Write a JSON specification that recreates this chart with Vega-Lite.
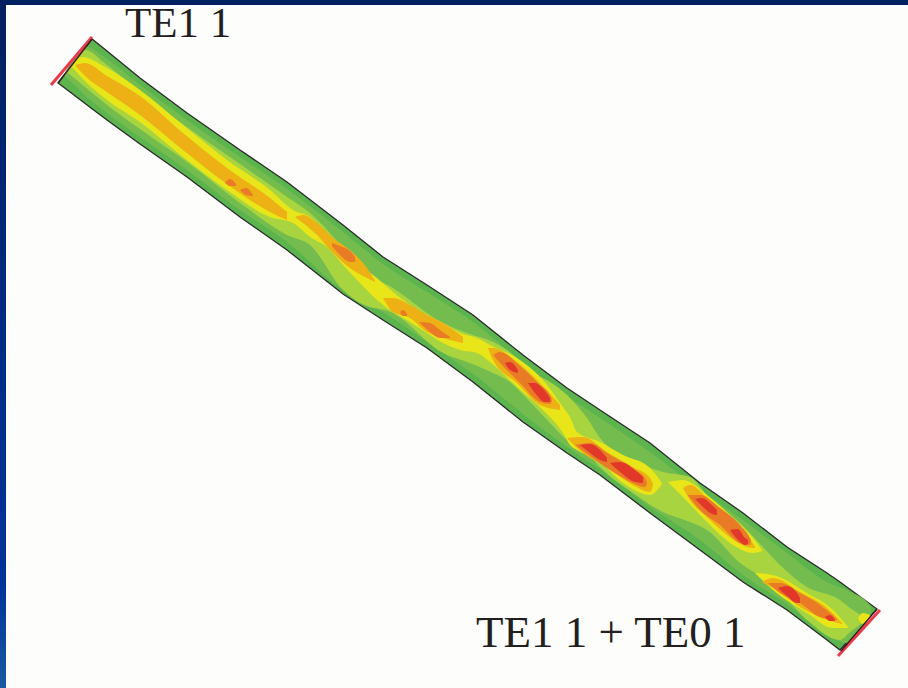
{"$schema":"https://vega.github.io/schema/vega-lite/v6.json","autosize":{"type":"fit","contains":"padding"},"width":908,"height":688,"padding":0,"background":"#fdfdfb","config":{"view":{"stroke":null}},
"datasets":{
"frame":[{"x":0,"x2":908,"y":0,"y2":5,"part":"top"},{"x":0,"x2":6,"y":0,"y2":688,"part":"left"}],
"labels":[{"label":"TE1 1","x":125,"y":37,"size":"a"},{"label":"TE1 1 + TE0 1","x":476,"y":647,"size":"b"}],
"ends":[{"end":"leftRed","x":51,"y":85},{"end":"leftRed","x":92,"y":37},{"end":"rightRed","x":838,"y":656},{"end":"rightRed","x":880,"y":610},{"end":"leftDark","x":58,"y":83},{"end":"leftDark","x":92,"y":39},{"end":"rightDark","x":841,"y":651},{"end":"rightDark","x":877,"y":609}],
"field":[
{"band":"guide","blob":"G","x":58,"top":83,"bottom":83},{"band":"guide","blob":"G","x":70,"top":67.5,"bottom":92},{"band":"guide","blob":"G","x":92,"top":39,"bottom":108.7},{"band":"guide","blob":"G","x":107,"top":51,"bottom":120},{"band":"guide","blob":"G","x":140,"top":78,"bottom":144},{"band":"guide","blob":"G","x":187,"top":113,"bottom":177},{"band":"guide","blob":"G","x":240,"top":150,"bottom":217},{"band":"guide","blob":"G","x":287,"top":182,"bottom":250},{"band":"guide","blob":"G","x":343,"top":225,"bottom":294},{"band":"guide","blob":"G","x":383,"top":257,"bottom":320},{"band":"guide","blob":"G","x":427,"top":285,"bottom":348},{"band":"guide","blob":"G","x":473,"top":315,"bottom":382},{"band":"guide","blob":"G","x":523,"top":355,"bottom":422},{"band":"guide","blob":"G","x":567,"top":388,"bottom":453},{"band":"guide","blob":"G","x":600,"top":410,"bottom":475},{"band":"guide","blob":"G","x":650,"top":443,"bottom":513},{"band":"guide","blob":"G","x":700,"top":483,"bottom":550},{"band":"guide","blob":"G","x":743,"top":513,"bottom":582},{"band":"guide","blob":"G","x":787,"top":547,"bottom":610},{"band":"guide","blob":"G","x":827,"top":573,"bottom":640},{"band":"guide","blob":"G","x":840,"top":582,"bottom":650},{"band":"guide","blob":"G","x":877,"top":609,"bottom":609},
{"band":"L1","blob":"M","x":64,"top":75,"bottom":75},{"band":"L1","blob":"M","x":86,"top":47,"bottom":96},{"band":"L1","blob":"M","x":107,"top":59,"bottom":113},{"band":"L1","blob":"M","x":140,"top":85,"bottom":137},{"band":"L1","blob":"M","x":187,"top":120,"bottom":170},{"band":"L1","blob":"M","x":240,"top":157,"bottom":210},{"band":"L1","blob":"M","x":287,"top":189,"bottom":242},{"band":"L1","blob":"M","x":343,"top":232,"bottom":290},{"band":"L1","blob":"M","x":383,"top":264,"bottom":312},{"band":"L1","blob":"M","x":427,"top":292,"bottom":342},{"band":"L1","blob":"M","x":473,"top":322,"bottom":374},{"band":"L1","blob":"M","x":523,"top":363,"bottom":414},{"band":"L1","blob":"M","x":567,"top":396,"bottom":447},{"band":"L1","blob":"M","x":600,"top":418,"bottom":469},{"band":"L1","blob":"M","x":650,"top":452,"bottom":507},{"band":"L1","blob":"M","x":700,"top":490,"bottom":540},{"band":"L1","blob":"M","x":743,"top":520,"bottom":575},{"band":"L1","blob":"M","x":787,"top":553,"bottom":604},{"band":"L1","blob":"M","x":827,"top":582,"bottom":634},{"band":"L1","blob":"M","x":846,"top":590,"bottom":643},{"band":"L1","blob":"M","x":870,"top":605,"bottom":616},{"band":"L1","blob":"M","x":871,"top":610,"bottom":611},
{"band":"L2","blob":"A","x":67,"top":72,"bottom":72},{"band":"L2","blob":"A","x":85,"top":50,"bottom":87},{"band":"L2","blob":"A","x":107,"top":65,"bottom":105},{"band":"L2","blob":"A","x":140,"top":92,"bottom":129},{"band":"L2","blob":"A","x":187,"top":127,"bottom":162},{"band":"L2","blob":"A","x":240,"top":164,"bottom":203},{"band":"L2","blob":"A","x":287,"top":197,"bottom":235},{"band":"L2","blob":"A","x":310,"top":213,"bottom":245},{"band":"L2","blob":"A","x":343,"top":248,"bottom":290},{"band":"L2","blob":"A","x":360,"top":268,"bottom":303},{"band":"L2","blob":"A","x":393,"top":288,"bottom":313},{"band":"L2","blob":"A","x":443,"top":323,"bottom":353},{"band":"L2","blob":"A","x":467,"top":333,"bottom":362},{"band":"L2","blob":"A","x":493,"top":342,"bottom":373},{"band":"L2","blob":"A","x":507,"top":350,"bottom":380},{"band":"L2","blob":"A","x":533,"top":373,"bottom":405},{"band":"L2","blob":"A","x":550,"top":382,"bottom":423},{"band":"L2","blob":"A","x":567,"top":395,"bottom":440},{"band":"L2","blob":"A","x":587,"top":418,"bottom":452},{"band":"L2","blob":"A","x":600,"top":438,"bottom":467},{"band":"L2","blob":"A","x":633,"top":460,"bottom":493},{"band":"L2","blob":"A","x":663,"top":472,"bottom":512},{"band":"L2","blob":"A","x":690,"top":477,"bottom":522},{"band":"L2","blob":"A","x":707,"top":495,"bottom":530},{"band":"L2","blob":"A","x":740,"top":523,"bottom":563},{"band":"L2","blob":"A","x":763,"top":547,"bottom":578},{"band":"L2","blob":"A","x":780,"top":565,"bottom":592},{"band":"L2","blob":"A","x":807,"top":587,"bottom":620},{"band":"L2","blob":"A","x":840,"top":600,"bottom":640},{"band":"L2","blob":"A","x":850,"top":608,"bottom":632},{"band":"L2","blob":"A","x":868,"top":619,"bottom":619},
{"band":"L3","blob":"Y1","x":72,"top":67,"bottom":67},{"band":"L3","blob":"Y1","x":82,"top":57,"bottom":78},{"band":"L3","blob":"Y1","x":107,"top":68,"bottom":100},{"band":"L3","blob":"Y1","x":140,"top":90,"bottom":122},{"band":"L3","blob":"Y1","x":183,"top":125,"bottom":157},{"band":"L3","blob":"Y1","x":227,"top":160,"bottom":190},{"band":"L3","blob":"Y1","x":270,"top":190,"bottom":217},{"band":"L3","blob":"Y1","x":293,"top":210,"bottom":223},{"band":"L3","blob":"Y1","x":310,"top":217,"bottom":237},{"band":"L3","blob":"Y1","x":327,"top":233,"bottom":247},{"band":"L3","blob":"Y1","x":343,"top":247,"bottom":265},{"band":"L3","blob":"Y1","x":360,"top":265,"bottom":283},{"band":"L3","blob":"Y1","x":377,"top":278,"bottom":300},{"band":"L3","blob":"Y1","x":393,"top":292,"bottom":312},{"band":"L3","blob":"Y1","x":410,"top":305,"bottom":322},{"band":"L3","blob":"Y1","x":427,"top":315,"bottom":333},{"band":"L3","blob":"Y1","x":443,"top":323,"bottom":343},{"band":"L3","blob":"Y1","x":460,"top":333,"bottom":350},{"band":"L3","blob":"Y1","x":477,"top":338,"bottom":353},{"band":"L3","blob":"Y1","x":490,"top":345,"bottom":362},{"band":"L3","blob":"Y1","x":517,"top":358,"bottom":387},{"band":"L3","blob":"Y1","x":543,"top":380,"bottom":410},{"band":"L3","blob":"Y1","x":563,"top":407,"bottom":433},{"band":"L3","blob":"Y1","x":570,"top":417,"bottom":445},{"band":"L3","blob":"Y1","x":577,"top":432,"bottom":450},{"band":"L3","blob":"Y1","x":600,"top":442,"bottom":462},{"band":"L3","blob":"Y1","x":623,"top":455,"bottom":483},{"band":"L3","blob":"Y1","x":650,"top":468,"bottom":495},{"band":"L3","blob":"Y1","x":662,"top":483,"bottom":484},
{"band":"L3","blob":"Y2","x":668,"top":482,"bottom":482},{"band":"L3","blob":"Y2","x":683,"top":480,"bottom":497},{"band":"L3","blob":"Y2","x":707,"top":495,"bottom":522},{"band":"L3","blob":"Y2","x":733,"top":518,"bottom":545},{"band":"L3","blob":"Y2","x":753,"top":538,"bottom":553},{"band":"L3","blob":"Y2","x":762,"top":550,"bottom":551},
{"band":"L3","blob":"Y3","x":755,"top":573,"bottom":573},{"band":"L3","blob":"Y3","x":773,"top":575,"bottom":590},{"band":"L3","blob":"Y3","x":807,"top":593,"bottom":613},{"band":"L3","blob":"Y3","x":833,"top":610,"bottom":628},{"band":"L3","blob":"Y3","x":848,"top":627,"bottom":628},
{"band":"L3","blob":"Y4","x":858,"top":618,"bottom":618},{"band":"L3","blob":"Y4","x":863,"top":613,"bottom":624},{"band":"L3","blob":"Y4","x":870,"top":615,"bottom":618},
{"band":"L4","blob":"O1","x":75,"top":65,"bottom":65},{"band":"L4","blob":"O1","x":85,"top":63,"bottom":76},{"band":"L4","blob":"O1","x":107,"top":76,"bottom":92},{"band":"L4","blob":"O1","x":140,"top":96,"bottom":115},{"band":"L4","blob":"O1","x":183,"top":133,"bottom":150},{"band":"L4","blob":"O1","x":227,"top":168,"bottom":184},{"band":"L4","blob":"O1","x":270,"top":198,"bottom":212},{"band":"L4","blob":"O1","x":287,"top":212,"bottom":220},
{"band":"L4","blob":"O2","x":295,"top":217,"bottom":217},{"band":"L4","blob":"O2","x":303,"top":215,"bottom":223},{"band":"L4","blob":"O2","x":317,"top":223,"bottom":235},{"band":"L4","blob":"O2","x":333,"top":238,"bottom":253},{"band":"L4","blob":"O2","x":350,"top":250,"bottom":268},{"band":"L4","blob":"O2","x":367,"top":268,"bottom":278},{"band":"L4","blob":"O2","x":375,"top":281,"bottom":282},
{"band":"L4","blob":"O3","x":383,"top":298,"bottom":298},{"band":"L4","blob":"O3","x":393,"top":298,"bottom":312},{"band":"L4","blob":"O3","x":410,"top":305,"bottom":318},{"band":"L4","blob":"O3","x":427,"top":315,"bottom":332},{"band":"L4","blob":"O3","x":443,"top":323,"bottom":338},{"band":"L4","blob":"O3","x":463,"top":337,"bottom":343},
{"band":"L4","blob":"O4","x":488,"top":348,"bottom":348},{"band":"L4","blob":"O4","x":493,"top":348,"bottom":360},{"band":"L4","blob":"O4","x":517,"top":362,"bottom":383},{"band":"L4","blob":"O4","x":540,"top":383,"bottom":405},{"band":"L4","blob":"O4","x":560,"top":405,"bottom":410},
{"band":"L4","blob":"O5","x":567,"top":438,"bottom":438},{"band":"L4","blob":"O5","x":583,"top":437,"bottom":453},{"band":"L4","blob":"O5","x":607,"top":452,"bottom":467},{"band":"L4","blob":"O5","x":633,"top":467,"bottom":485},{"band":"L4","blob":"O5","x":650,"top":478,"bottom":492},{"band":"L4","blob":"O5","x":653,"top":484,"bottom":485},
{"band":"L4","blob":"O6","x":683,"top":488,"bottom":488},{"band":"L4","blob":"O6","x":690,"top":485,"bottom":500},{"band":"L4","blob":"O6","x":707,"top":498,"bottom":517},{"band":"L4","blob":"O6","x":727,"top":518,"bottom":535},{"band":"L4","blob":"O6","x":747,"top":535,"bottom":547},{"band":"L4","blob":"O6","x":755,"top":547,"bottom":548},
{"band":"L4","blob":"O7","x":762,"top":582,"bottom":582},{"band":"L4","blob":"O7","x":773,"top":578,"bottom":588},{"band":"L4","blob":"O7","x":800,"top":592,"bottom":607},{"band":"L4","blob":"O7","x":827,"top":608,"bottom":620},{"band":"L4","blob":"O7","x":842,"top":623,"bottom":624},
{"band":"L5","blob":"D1","x":225,"top":183,"bottom":183},{"band":"L5","blob":"D1","x":230,"top":179,"bottom":186},{"band":"L5","blob":"D1","x":236,"top":184,"bottom":186},
{"band":"L5","blob":"D1b","x":240,"top":190,"bottom":190},{"band":"L5","blob":"D1b","x":246,"top":188,"bottom":195},{"band":"L5","blob":"D1b","x":253,"top":195,"bottom":196},
{"band":"L5","blob":"D2","x":332,"top":243,"bottom":246},{"band":"L5","blob":"D2","x":340,"top":246,"bottom":255},{"band":"L5","blob":"D2","x":350,"top":251,"bottom":262},{"band":"L5","blob":"D2","x":355,"top":257,"bottom":262},
{"band":"L5","blob":"D3","x":400,"top":312,"bottom":312},{"band":"L5","blob":"D3","x":403,"top":310,"bottom":316},{"band":"L5","blob":"D3","x":407,"top":314,"bottom":316},
{"band":"L5","blob":"D4","x":419,"top":322,"bottom":322},{"band":"L5","blob":"D4","x":430,"top":323,"bottom":332},{"band":"L5","blob":"D4","x":440,"top":330,"bottom":338},{"band":"L5","blob":"D4","x":450,"top":337,"bottom":338},
{"band":"L5","blob":"D5","x":493,"top":355,"bottom":355},{"band":"L5","blob":"D5","x":500,"top":352,"bottom":363},{"band":"L5","blob":"D5","x":520,"top":366,"bottom":383},{"band":"L5","blob":"D5","x":540,"top":385,"bottom":402},{"band":"L5","blob":"D5","x":550,"top":395,"bottom":404},{"band":"L5","blob":"D5","x":552,"top":400,"bottom":401},
{"band":"L5","blob":"D6","x":575,"top":445,"bottom":445},{"band":"L5","blob":"D6","x":590,"top":443,"bottom":456},{"band":"L5","blob":"D6","x":610,"top":455,"bottom":470},{"band":"L5","blob":"D6","x":635,"top":470,"bottom":484},{"band":"L5","blob":"D6","x":645,"top":478,"bottom":487},{"band":"L5","blob":"D6","x":647,"top":483,"bottom":484},
{"band":"L5","blob":"D7","x":688,"top":495,"bottom":495},{"band":"L5","blob":"D7","x":700,"top":495,"bottom":510},{"band":"L5","blob":"D7","x":720,"top":508,"bottom":525},{"band":"L5","blob":"D7","x":740,"top":525,"bottom":543},{"band":"L5","blob":"D7","x":750,"top":538,"bottom":545},{"band":"L5","blob":"D7","x":751,"top":540,"bottom":541},
{"band":"L5","blob":"D8","x":768,"top":583,"bottom":583},{"band":"L5","blob":"D8","x":780,"top":583,"bottom":593},{"band":"L5","blob":"D8","x":800,"top":593,"bottom":603},{"band":"L5","blob":"D8","x":820,"top":605,"bottom":617},{"band":"L5","blob":"D8","x":837,"top":619,"bottom":620},
{"band":"L6","blob":"R1","x":505,"top":363,"bottom":363},{"band":"L6","blob":"R1","x":510,"top":362,"bottom":370},{"band":"L6","blob":"R1","x":518,"top":370,"bottom":373},
{"band":"L6","blob":"R2","x":528,"top":383,"bottom":383},{"band":"L6","blob":"R2","x":535,"top":383,"bottom":393},{"band":"L6","blob":"R2","x":545,"top":391,"bottom":402},{"band":"L6","blob":"R2","x":550,"top":398,"bottom":402},
{"band":"L6","blob":"R3","x":580,"top":445,"bottom":445},{"band":"L6","blob":"R3","x":590,"top":444,"bottom":453},{"band":"L6","blob":"R3","x":600,"top":450,"bottom":460},{"band":"L6","blob":"R3","x":607,"top":458,"bottom":462},
{"band":"L6","blob":"R4","x":610,"top":463,"bottom":463},{"band":"L6","blob":"R4","x":620,"top":462,"bottom":472},{"band":"L6","blob":"R4","x":635,"top":470,"bottom":482},{"band":"L6","blob":"R4","x":643,"top":477,"bottom":483},
{"band":"L6","blob":"R5","x":695,"top":499,"bottom":499},{"band":"L6","blob":"R5","x":702,"top":498,"bottom":506},{"band":"L6","blob":"R5","x":712,"top":505,"bottom":514},{"band":"L6","blob":"R5","x":717,"top":510,"bottom":515},
{"band":"L6","blob":"R6","x":730,"top":530,"bottom":530},{"band":"L6","blob":"R6","x":738,"top":529,"bottom":540},{"band":"L6","blob":"R6","x":745,"top":538,"bottom":545},{"band":"L6","blob":"R6","x":748,"top":540,"bottom":544},
{"band":"L6","blob":"R7","x":778,"top":588,"bottom":588},{"band":"L6","blob":"R7","x":787,"top":586,"bottom":596},{"band":"L6","blob":"R7","x":797,"top":593,"bottom":603},{"band":"L6","blob":"R7","x":800,"top":598,"bottom":603},
{"band":"L6","blob":"R8","x":825,"top":617,"bottom":617},{"band":"L6","blob":"R8","x":830,"top":615,"bottom":621},{"band":"L6","blob":"R8","x":835,"top":620,"bottom":621}
]},
"layer":[
{"data":{"name":"frame"},"transform":[{"filter":"datum.part==='top'"}],"mark":{"type":"rect","color":"#002060"},"encoding":{"x":{"field":"x","type":"quantitative","scale":{"domain":[0,908],"nice":false,"zero":false},"axis":null},"x2":{"field":"x2"},"y":{"field":"y","type":"quantitative","scale":{"domain":[688,0],"nice":false,"zero":false},"axis":null},"y2":{"field":"y2"}}},
{"data":{"name":"frame"},"transform":[{"filter":"datum.part==='left'"}],"mark":{"type":"rect","color":{"gradient":"linear","x1":0,"y1":0,"x2":0,"y2":1,"stops":[{"offset":0,"color":"#002060"},{"offset":0.45,"color":"#002a80"},{"offset":0.85,"color":"#003399"},{"offset":1,"color":"#1a5aa0"}]}},"encoding":{"x":{"field":"x","type":"quantitative","axis":null},"x2":{"field":"x2"},"y":{"field":"y","type":"quantitative","axis":null},"y2":{"field":"y2"}}},
{"data":{"name":"field"},"transform":[{"filter":"datum.band==='guide'"}],"mark":{"type":"area","color":"#5cb44f","stroke":"#2a2a2a","strokeWidth":1.3},"encoding":{"x":{"field":"x","type":"quantitative","axis":null},"y":{"field":"top","type":"quantitative","axis":null},"y2":{"field":"bottom"},"detail":{"field":"blob"}}},
{"data":{"name":"field"},"transform":[{"filter":"datum.band==='L1'"}],"mark":{"type":"area","color":"#74bc4e","interpolate":"monotone"},"encoding":{"x":{"field":"x","type":"quantitative","axis":null},"y":{"field":"top","type":"quantitative","axis":null},"y2":{"field":"bottom"},"detail":{"field":"blob"}}},
{"data":{"name":"field"},"transform":[{"filter":"datum.band==='L2'"}],"mark":{"type":"area","color":"#a8d440","interpolate":"monotone"},"encoding":{"x":{"field":"x","type":"quantitative","axis":null},"y":{"field":"top","type":"quantitative","axis":null},"y2":{"field":"bottom"},"detail":{"field":"blob"}}},
{"data":{"name":"field"},"transform":[{"filter":"datum.band==='L3'"}],"mark":{"type":"area","color":"#e8e618","interpolate":"monotone"},"encoding":{"x":{"field":"x","type":"quantitative","axis":null},"y":{"field":"top","type":"quantitative","axis":null},"y2":{"field":"bottom"},"detail":{"field":"blob"}}},
{"data":{"name":"field"},"transform":[{"filter":"datum.band==='L4'"}],"mark":{"type":"area","color":"#edb015","interpolate":"monotone"},"encoding":{"x":{"field":"x","type":"quantitative","axis":null},"y":{"field":"top","type":"quantitative","axis":null},"y2":{"field":"bottom"},"detail":{"field":"blob"}}},
{"data":{"name":"field"},"transform":[{"filter":"datum.band==='L5'"}],"mark":{"type":"area","color":"#e97b26","interpolate":"monotone"},"encoding":{"x":{"field":"x","type":"quantitative","axis":null},"y":{"field":"top","type":"quantitative","axis":null},"y2":{"field":"bottom"},"detail":{"field":"blob"}}},
{"data":{"name":"field"},"transform":[{"filter":"datum.band==='L6'"}],"mark":{"type":"area","color":"#e1382a","interpolate":"monotone"},"encoding":{"x":{"field":"x","type":"quantitative","axis":null},"y":{"field":"top","type":"quantitative","axis":null},"y2":{"field":"bottom"},"detail":{"field":"blob"}}},
{"data":{"name":"ends"},"transform":[{"filter":"indexof(datum.end,'Red')>0"}],"mark":{"type":"line","color":"#ea3b4c","strokeWidth":3},"encoding":{"x":{"field":"x","type":"quantitative","axis":null},"y":{"field":"y","type":"quantitative","axis":null},"detail":{"field":"end"}}},
{"data":{"name":"ends"},"transform":[{"filter":"indexof(datum.end,'Dark')>0"}],"mark":{"type":"line","color":"#3a1a1a","strokeWidth":1.3},"encoding":{"x":{"field":"x","type":"quantitative","axis":null},"y":{"field":"y","type":"quantitative","axis":null},"detail":{"field":"end"}}},
{"data":{"name":"labels"},"transform":[{"filter":"datum.size==='a'"}],"mark":{"type":"text","font":"Liberation Serif","fontSize":43,"align":"left","baseline":"alphabetic","color":"#231f20"},"encoding":{"x":{"field":"x","type":"quantitative","axis":null},"y":{"field":"y","type":"quantitative","axis":null},"text":{"field":"label"}}},
{"data":{"name":"labels"},"transform":[{"filter":"datum.size==='b'"}],"mark":{"type":"text","font":"Liberation Serif","fontSize":45,"align":"left","baseline":"alphabetic","color":"#231f20"},"encoding":{"x":{"field":"x","type":"quantitative","axis":null},"y":{"field":"y","type":"quantitative","axis":null},"text":{"field":"label"}}}
]}
